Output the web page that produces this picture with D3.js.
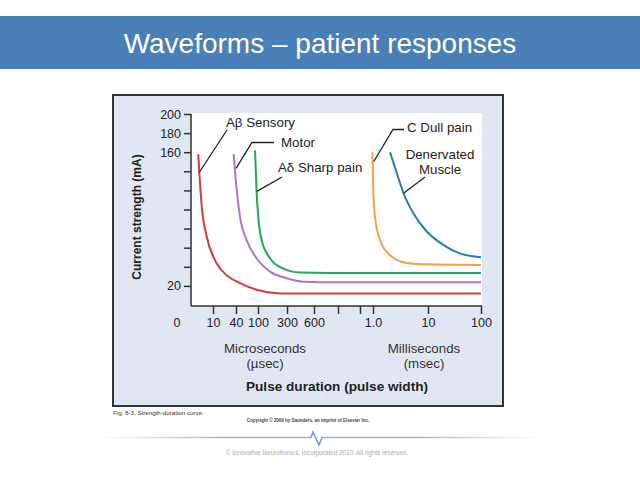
<!DOCTYPE html>
<html>
<head>
<meta charset="utf-8">
<script src="https://cdn.jsdelivr.net/npm/d3@7"></script>
<style>
  body { margin: 0; background: #fff; }
  text { font-family: "Liberation Sans", Arial, sans-serif; }
</style>
</head>
<body>
<div class="chart"></div>
<script>
// pulse duration in microseconds, current in mA
var xTicks = [10, 40, 100, 300, 600, 1000, 10000, 100000];
var xTickLabels = [`10`, `40`, `100`, `300`, `600`, `1.0`, `10`, `100`];
var xMinorTicks = [750, 900];
var yTicks = [20, 40, 60, 80, 100, 120, 140, 160, 180, 200];
var yTickLabels = [`20`, ``, ``, ``, ``, ``, ``, `160`, `180`, `200`];

var sensory = [[3.3,158],[3.8,138],[4.9,103],[7.1,72],[12.6,47],[28,31],[51,23],[96,16],[230,12.3],[300,12],[100000,12]];
var motor = [[37,158],[42,120],[51,92],[69,68],[96,49],[183,35],[298,28],[480,24.4],[750,23.8],[100000,23.8]];
var sharpPain = [[92,162],[96,120],[102,92],[125,68],[183,49],[274,38],[444,34],[700,33.5],[100000,33.5]];
var dullPain = [[995,160],[1050,120],[1330,92],[2150,68],[3800,52],[6500,44],[9800,42.6],[100000,42]];
var denervated = [[3800,160],[4900,138],[6000,117],[7600,96],[9800,77],[36000,63],[64000,54],[100000,50]];

var series = [
    {name: `Aβ Sensory`, values: sensory, color: `#d83a40`},
    {name: `Motor`, values: motor, color: `#a97ac2`},
    {name: `Aδ Sharp pain`, values: sharpPain, color: `#22a75c`},
    {name: `C Dull pain`, values: dullPain, color: `#f1a24c`},
    {name: `Denervated Muscle`, values: denervated, color: `#1d7fb6`}
];

var width = 640, height = 480;

var svg = d3.select(`.chart`)
    .append(`svg`)
    .attr(`width`, width)
    .attr(`height`, height);

// title banner
svg.append(`rect`)
    .attr(`x`, 0).attr(`y`, 16)
    .attr(`width`, width).attr(`height`, 53)
    .style(`fill`, `#4a7fb7`);
svg.append(`text`)
    .attr(`x`, 320).attr(`y`, 53)
    .style(`text-anchor`, `middle`)
    .style(`fill`, `#fff`)
    .style(`font-size`, `28px`)
    .text(`Waveforms – patient responses`);

// figure frame
svg.append(`rect`)
    .attr(`x`, 113).attr(`y`, 95)
    .attr(`width`, 390).attr(`height`, 311)
    .style(`fill`, `#dfe7f2`)
    .style(`stroke`, `#333`)
    .style(`stroke-width`, 2);
svg.append(`rect`)
    .attr(`x`, 192).attr(`y`, 113)
    .attr(`width`, 290).attr(`height`, 193)
    .style(`fill`, `#fff`);

// the axis is schematic, not log: piecewise linear between the ticks
var xScale = d3.scaleLinear()
    .domain([0, 10, 40, 100, 300, 600, 750, 900, 1000, 10000, 100000])
    .range([191, 213, 236, 258, 287, 314, 338, 360, 373, 428, 481]);

var yScale = d3.scaleLinear()
    .domain([0, 200])
    .range([305, 114]);

var yAxis = d3.axisLeft(yScale)
    .tickValues(yTicks)
    .tickSize(7)
    .tickSizeOuter(0)
    .tickFormat((d, i) => yTickLabels[i]);

var gy = svg.append(`g`)
    .attr(`transform`, `translate(191,0)`)
    .call(yAxis);
gy.select(`.domain`).attr(`d`, `M0,114V306`);

var xAxis = d3.axisBottom(xScale)
    .tickValues(xTicks.concat(xMinorTicks))
    .tickSize(8)
    .tickSizeOuter(0)
    .tickFormat(d => xTicks.indexOf(d) >= 0 ? xTickLabels[xTicks.indexOf(d)] : ``);

var gx = svg.append(`g`)
    .attr(`transform`, `translate(0,306)`)
    .call(xAxis);
gx.select(`.domain`).attr(`d`, `M191,0H482`);

svg.selectAll(`.tick text`)
    .style(`font-family`, `"Liberation Sans", Arial, sans-serif`)
    .style(`font-size`, `12.5px`)
    .style(`fill`, `#222`);
gx.selectAll(`.tick text`).attr(`y`, 12);
svg.selectAll(`.domain, .tick line`)
    .style(`stroke`, `#333`)
    .style(`stroke-width`, 1.5);

svg.append(`text`)
    .attr(`x`, 177).attr(`y`, 327)
    .style(`text-anchor`, `middle`)
    .style(`font-size`, `12.5px`)
    .style(`fill`, `#222`)
    .text(`0`);

// curves
var line = d3.line()
    .x(d => xScale(d[0]))
    .y(d => yScale(d[1]))
    .curve(d3.curveMonotoneX);

svg.selectAll(`.curve`)
    .data(series)
    .enter()
    .append(`path`)
    .attr(`class`, `curve`)
    .attr(`d`, d => line(d.values))
    .style(`fill`, `none`)
    .style(`stroke`, d => d.color)
    .style(`stroke-width`, 2);

// leader lines: anchor on the curve, then to the label
var leaders = [
    {at: [3.8, 139], path: [[227, 130]]},
    {at: [40, 143], path: [[252, 142.5], [274, 142.5]]},
    {at: [97, 119], path: [[282, 177]]},
    {at: [1100, 150], path: [[393, 129.5], [404, 129.5]]},
    {at: [6000, 117], path: [[425, 177]]}
];
svg.selectAll(`.leader`)
    .data(leaders)
    .enter()
    .append(`path`)
    .attr(`class`, `leader`)
    .attr(`d`, d => `M${xScale(d.at[0])},${yScale(d.at[1])}` + d.path.map(p => `L${p[0]},${p[1]}`).join(``))
    .style(`fill`, `none`)
    .style(`stroke`, `#222`)
    .style(`stroke-width`, 1.3);

var labels = [
    {text: `Aβ Sensory`, x: 226, y: 127, anchor: `start`},
    {text: `Motor`, x: 281, y: 147, anchor: `start`},
    {text: `Aδ Sharp pain`, x: 278, y: 172, anchor: `start`},
    {text: `C Dull pain`, x: 407, y: 132, anchor: `start`},
    {text: `Denervated`, x: 440, y: 159, anchor: `middle`},
    {text: `Muscle`, x: 440, y: 174, anchor: `middle`}
];
svg.selectAll(`.lbl`)
    .data(labels)
    .enter()
    .append(`text`)
    .attr(`class`, `lbl`)
    .attr(`x`, d => d.x).attr(`y`, d => d.y)
    .style(`text-anchor`, d => d.anchor)
    .style(`font-size`, `13.3px`)
    .style(`fill`, `#222`)
    .text(d => d.text);

// axis titles
svg.append(`text`)
    .attr(`transform`, `translate(141,217) rotate(-90)`)
    .style(`text-anchor`, `middle`)
    .style(`font-size`, `12px`)
    .style(`font-weight`, `bold`)
    .style(`fill`, `#222`)
    .text(`Current strength (mA)`);

var unitText = [
    {text: `Microseconds`, x: 265, y: 353},
    {text: `(µsec)`, x: 265, y: 368},
    {text: `Milliseconds`, x: 424, y: 353},
    {text: `(msec)`, x: 424, y: 368}
];
svg.selectAll(`.unit`)
    .data(unitText)
    .enter()
    .append(`text`)
    .attr(`x`, d => d.x).attr(`y`, d => d.y)
    .style(`text-anchor`, `middle`)
    .style(`font-size`, `13.3px`)
    .style(`fill`, `#333`)
    .text(d => d.text);

svg.append(`text`)
    .attr(`x`, 337).attr(`y`, 391)
    .style(`text-anchor`, `middle`)
    .style(`font-size`, `13.6px`)
    .style(`font-weight`, `bold`)
    .style(`fill`, `#222`)
    .text(`Pulse duration (pulse width)`);

// captions
svg.append(`text`)
    .attr(`x`, 113).attr(`y`, 415)
    .style(`font-size`, `6.2px`)
    .style(`fill`, `#333`)
    .text(`Fig. 8-3. Strength-duration curve.`);
svg.append(`text`)
    .attr(`x`, 308).attr(`y`, 422)
    .style(`text-anchor`, `middle`)
    .style(`font-size`, `4.5px`)
    .style(`font-weight`, `bold`)
    .style(`fill`, `#444`)
    .text(`Copyright © 2009 by Saunders, an imprint of Elsevier Inc.`);

// footer rule with zigzag
var grad = svg.append(`defs`).append(`linearGradient`)
    .attr(`id`, `fade`)
    .attr(`gradientUnits`, `userSpaceOnUse`)
    .attr(`x1`, 100).attr(`x2`, 540);
grad.append(`stop`).attr(`offset`, 0).style(`stop-color`, `#9fb2cb`).style(`stop-opacity`, 0);
grad.append(`stop`).attr(`offset`, 0.3).style(`stop-color`, `#9fb2cb`).style(`stop-opacity`, 1);
grad.append(`stop`).attr(`offset`, 0.7).style(`stop-color`, `#9fb2cb`).style(`stop-opacity`, 1);
grad.append(`stop`).attr(`offset`, 1).style(`stop-color`, `#9fb2cb`).style(`stop-opacity`, 0);

svg.append(`path`)
    .attr(`d`, `M100,437.5H311L313,432L319,445L322,437.5H540`)
    .style(`fill`, `none`)
    .style(`stroke`, `url(#fade)`)
    .style(`stroke-width`, 1.3);
svg.append(`path`)
    .attr(`d`, `M311,437.5L313,432L319,445L322,437.5`)
    .style(`fill`, `none`)
    .style(`stroke`, `#7f9cc0`)
    .style(`stroke-width`, 1.3);

svg.append(`text`)
    .attr(`x`, 317).attr(`y`, 455)
    .style(`text-anchor`, `middle`)
    .style(`font-size`, `6.3px`)
    .style(`fill`, `#aaa`)
    .text(`©   Innovative Neurotronics, Incorporated 2010.  All rights reserved.`);
</script>
</body>
</html>
